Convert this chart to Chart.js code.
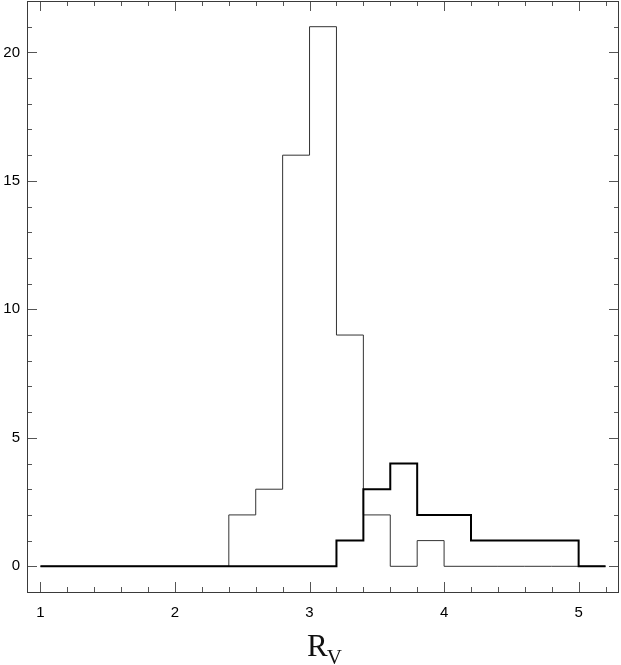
<!DOCTYPE html>
<html>
<head>
<meta charset="utf-8">
<script src="https://cdn.jsdelivr.net/npm/chart.js@4"></script>
<style>
  html, body { margin: 0; padding: 0; background: #fff; }
  #wrap { width: 621px; height: 665px; }
</style>
</head>
<body>
<div id="wrap"><canvas id="c" width="621" height="665"></canvas></div>
<script>
// ---- data ----
const binEdges = [1.0, 1.2, 1.4, 1.6, 1.8, 2.0, 2.2, 2.4, 2.6, 2.8, 3.0, 3.2, 3.4, 3.6, 3.8, 4.0, 4.2, 4.4, 4.6, 4.8, 5.0, 5.2];
const thinCounts  = [0, 0, 0, 0, 0, 0, 0, 2, 3, 16, 21, 9, 2, 0, 1, 0, 0, 0, 0, 0, 0];
const thickCounts = [0, 0, 0, 0, 0, 0, 0, 0, 0, 0, 0, 1, 3, 4, 2, 2, 1, 1, 1, 1, 0];
const xTickLabels = [1, 2, 3, 4, 5];
const yTickLabels = [0, 5, 10, 15, 20];
const xMinorStep = 0.2;
const yMinorStep = 1;

function toSteps(counts) {
  const pts = counts.map((c, i) => ({ x: binEdges[i], y: c }));
  pts.push({ x: binEdges[binEdges.length - 1], y: counts[counts.length - 1] });
  return pts;
}

const frameColor = '#3a3a3a';
const tickColor = '#555';

const inwardTicks = {
  id: 'inwardTicks',
  afterDatasetsDraw(chart) {
    const ctx = chart.ctx;
    const a = chart.chartArea;
    const xs = chart.scales.x, ys = chart.scales.y;
    ctx.save();
    ctx.strokeStyle = tickColor;
    ctx.lineWidth = 1;
    ctx.beginPath();
    const nx = Math.round((xs.max - xs.min) / xMinorStep) + 2;
    for (let k = -5; k < nx + 5; k++) {
      const v = Math.round((1 + k * xMinorStep) * 1000) / 1000;
      if (v <= xs.min || v >= xs.max) continue;
      const major = Math.abs(v - Math.round(v)) < 1e-6;
      const len = major ? 10 : 5;
      const px = Math.round(xs.getPixelForValue(v)) + 0.5;
      ctx.moveTo(px, a.bottom); ctx.lineTo(px, a.bottom - len);
      ctx.moveTo(px, a.top); ctx.lineTo(px, a.top + len);
    }
    for (let v = Math.ceil(ys.min); v <= ys.max; v += yMinorStep) {
      if (v <= ys.min) continue;
      const major = v % 5 === 0;
      const len = major ? 10 : 5;
      const py = Math.round(ys.getPixelForValue(v)) + 0.5;
      ctx.moveTo(a.left, py); ctx.lineTo(a.left + len, py);
      ctx.moveTo(a.right, py); ctx.lineTo(a.right - len, py);
    }
    ctx.stroke();
    ctx.strokeStyle = frameColor;
    ctx.strokeRect(Math.round(a.left) + 0.5, Math.round(a.top) + 0.5,
                   Math.round(a.right - a.left) - 1, Math.round(a.bottom - a.top));
    ctx.restore();
  },
  afterDraw(chart) {
    const ctx = chart.ctx;
    const a = chart.chartArea;
    const cx = (a.left + a.right) / 2;
    ctx.save();
    ctx.fillStyle = '#111';
    ctx.textBaseline = 'alphabetic';
    ctx.textAlign = 'left';
    ctx.font = '31px "Liberation Serif", "DejaVu Serif", serif';
    const rW = ctx.measureText('R').width;
    ctx.font = '21px "Liberation Serif", "DejaVu Serif", serif';
    const vW = ctx.measureText('V').width;
    const x0 = cx - (rW + vW) / 2 + 2;
    ctx.font = '31px "Liberation Serif", "DejaVu Serif", serif';
    ctx.fillText('R', x0, 656);
    ctx.font = '21px "Liberation Serif", "DejaVu Serif", serif';
    ctx.fillText('V', x0 + rW - 1, 664);
    ctx.restore();
  }
};

new Chart(document.getElementById('c'), {
  type: 'line',
  data: {
    datasets: [
      {
        label: 'thick',
        data: toSteps(thickCounts),
        stepped: 'before',
        borderColor: '#000',
        borderWidth: 2,
        pointRadius: 0,
        fill: false,
        order: 0
      },
      {
        label: 'thin',
        data: toSteps(thinCounts),
        stepped: 'before',
        borderColor: '#333',
        borderWidth: 1,
        pointRadius: 0,
        fill: false,
        order: 1
      }
    ]
  },
  options: {
    responsive: false,
    animation: false,
    events: [],
    layout: { padding: { top: 1, right: 2, left: 0, bottom: 0 } },
    plugins: { legend: { display: false }, tooltip: { enabled: false }, title: { display: false } },
    scales: {
      x: {
        type: 'linear',
        min: 0.9,
        max: 5.3,
        grid: { display: false, drawTicks: false, tickLength: 0 },
        border: { display: false },
        afterBuildTicks(scale) { scale.ticks = xTickLabels.map(v => ({ value: v })); },
        afterFit(scale) { scale.height = 73; scale.paddingLeft = 0; scale.paddingRight = 0; },
        ticks: {
          color: '#000',
          font: { family: '"Liberation Sans", Arial, sans-serif', size: 15 },
          padding: 12,
          maxRotation: 0,
          autoSkip: false
        }
      },
      y: {
        type: 'linear',
        min: -1,
        max: 22,
        grid: { display: false, drawTicks: false, tickLength: 0 },
        border: { display: false },
        afterBuildTicks(scale) { scale.ticks = yTickLabels.map(v => ({ value: v })); },
        afterFit(scale) { scale.width = 27; scale.paddingTop = 0; scale.paddingBottom = 0; },
        ticks: {
          color: '#000',
          font: { family: '"Liberation Sans", Arial, sans-serif', size: 15 },
          padding: 7,
          autoSkip: false
        }
      }
    }
  },
  plugins: [inwardTicks]
});
</script>
</body>
</html>
